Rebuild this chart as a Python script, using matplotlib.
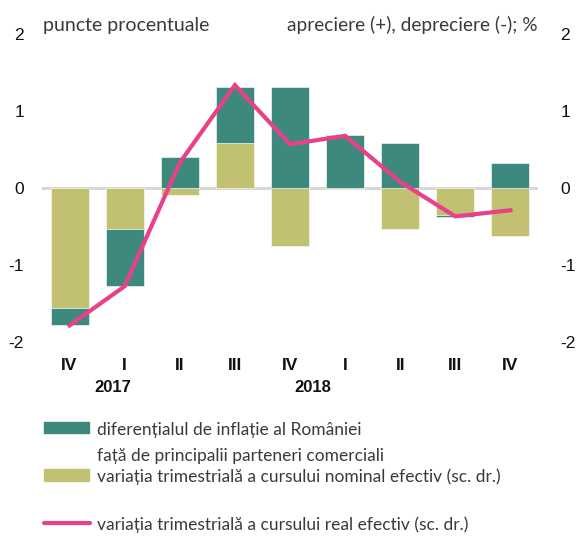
import matplotlib
matplotlib.use("Agg")
import matplotlib.pyplot as plt
import numpy as np
from matplotlib.patches import Rectangle
from matplotlib.lines import Line2D

# Quarterly data, Q4 2016 - Q4 2018
quarters = ["IV", "I", "II", "III", "IV", "I", "II", "III", "IV"]
year_labels = ["2017", "2018"]
year_label_pos = [0.78, 4.42]
inflation_diff = [-0.21, -0.75, 0.41, 0.73, 1.32, 0.69, 0.59, -0.03, 0.33]
nominal_change = [-1.57, -0.53, -0.09, 0.59, -0.76, -0.01, -0.53, -0.35, -0.63]
real_change = [-1.79, -1.28, 0.33, 1.34, 0.57, 0.68, 0.08, -0.37, -0.29]

label_teal = "diferențialul de inflație al României\nfață de principalii parteneri comerciali"
label_olive = "variația trimestrială a cursului nominal efectiv (sc. dr.)"
label_pink = "variația trimestrială a cursului real efectiv (sc. dr.)"

TEAL = "#3e897d"
OLIVE = "#c2c171"
PINK = "#e8408a"
TXT = "#3a3a3a"

W, H = 579, 536
fig = plt.figure(figsize=(W / 100, H / 100), dpi=100)

def fx(px):
    return px / W

def fy(py):
    return 1 - py / H

tick_font = ["Liberation Sans", "DejaVu Sans"]
text_font = ["Lato", "DejaVu Sans"]
TICK_SIZE = 12.5

ax = fig.add_axes([fx(42), fy(341.5), fx(538) - fx(42), fy(34.5) - fy(341.5)])
x = np.arange(len(quarters))
infl = np.array(inflation_diff)
nom = np.array(nominal_change)

# olive sits next to zero, teal stacks on it when signs agree
teal_bottom = np.where(np.sign(infl) == np.sign(nom), nom, 0.0)
bw = 0.69
ax.bar(x, nom, width=bw, color=OLIVE, edgecolor="white", linewidth=0.4, zorder=2)
ax.bar(x, infl, bottom=teal_bottom, width=bw, color=TEAL, edgecolor="white",
       linewidth=0.4, zorder=2)
ax.axhline(0, color="#d6d6d6", linewidth=2, zorder=1)
ax.plot(x, real_change, color=PINK, linewidth=3, solid_joinstyle="miter", zorder=3)

ax.set_xlim(-0.5, len(quarters) - 0.5)
ax.set_ylim(-2, 2)
ax.set_yticks([-2, -1, 0, 1, 2])
ax.set_yticklabels(["-2", "-1", "0", "1", "2"])
ax.set_xticks(x)
ax.set_xticklabels(quarters)
for s in ax.spines.values():
    s.set_visible(False)
ax.tick_params(axis="y", length=0, pad=13, labelsize=TICK_SIZE, labelcolor="#111111")
ax.tick_params(axis="x", length=0, pad=12, labelsize=TICK_SIZE, labelcolor="#111111")
for t in ax.get_xticklabels() + ax.get_yticklabels():
    t.set_fontfamily(tick_font)
for t in ax.get_xticklabels():
    t.set_fontweight("bold")

ax2 = ax.twinx()
ax2.set_ylim(-2, 2)
ax2.set_yticks([-2, -1, 0, 1, 2])
ax2.set_yticklabels(["-2", "-1", "0", "1", "2"])
for s in ax2.spines.values():
    s.set_visible(False)
ax2.tick_params(axis="y", length=0, pad=16, labelsize=TICK_SIZE, labelcolor="#111111")
for t in ax2.get_yticklabels():
    t.set_fontfamily(tick_font)

for lbl, pos in zip(year_labels, year_label_pos):
    ax.text(pos, -0.151, lbl, transform=ax.get_xaxis_transform(), ha="center",
            va="center", fontsize=TICK_SIZE - 0.5, fontweight="bold",
            family=tick_font, color="#111111")

fig.text(fx(43), fy(25), "puncte procentuale", ha="left", va="center",
         fontsize=14, family=text_font, color=TXT)
fig.text(fx(538), fy(25), "apreciere (+), depreciere (-); %", ha="right",
         va="center", fontsize=13.8, family=text_font, color=TXT)

# legend
LEG_SIZE = 12.5
fig.add_artist(Rectangle((fx(44), fy(433)), fx(89) - fx(44), fy(422) - fy(433),
                         transform=fig.transFigure, color=TEAL))
fig.text(fx(97), fy(430), label_teal.split("\n")[0], ha="left", va="center",
         fontsize=LEG_SIZE, family=text_font, color=TXT)
fig.text(fx(97), fy(456), label_teal.split("\n")[1], ha="left", va="center",
         fontsize=LEG_SIZE, family=text_font, color=TXT)
fig.add_artist(Rectangle((fx(44), fy(481)), fx(89) - fx(44), fy(469) - fy(481),
                         transform=fig.transFigure, color=OLIVE))
fig.text(fx(97), fy(477), label_olive, ha="left", va="center",
         fontsize=LEG_SIZE, family=text_font, color=TXT)
fig.add_artist(Line2D([fx(44), fx(90)], [fy(523), fy(523)],
                      transform=fig.transFigure, color=PINK, linewidth=3,
                      solid_capstyle="round"))
fig.text(fx(97), fy(525), label_pink, ha="left", va="center",
         fontsize=LEG_SIZE, family=text_font, color=TXT)

fig.savefig("out.png", dpi=100)
